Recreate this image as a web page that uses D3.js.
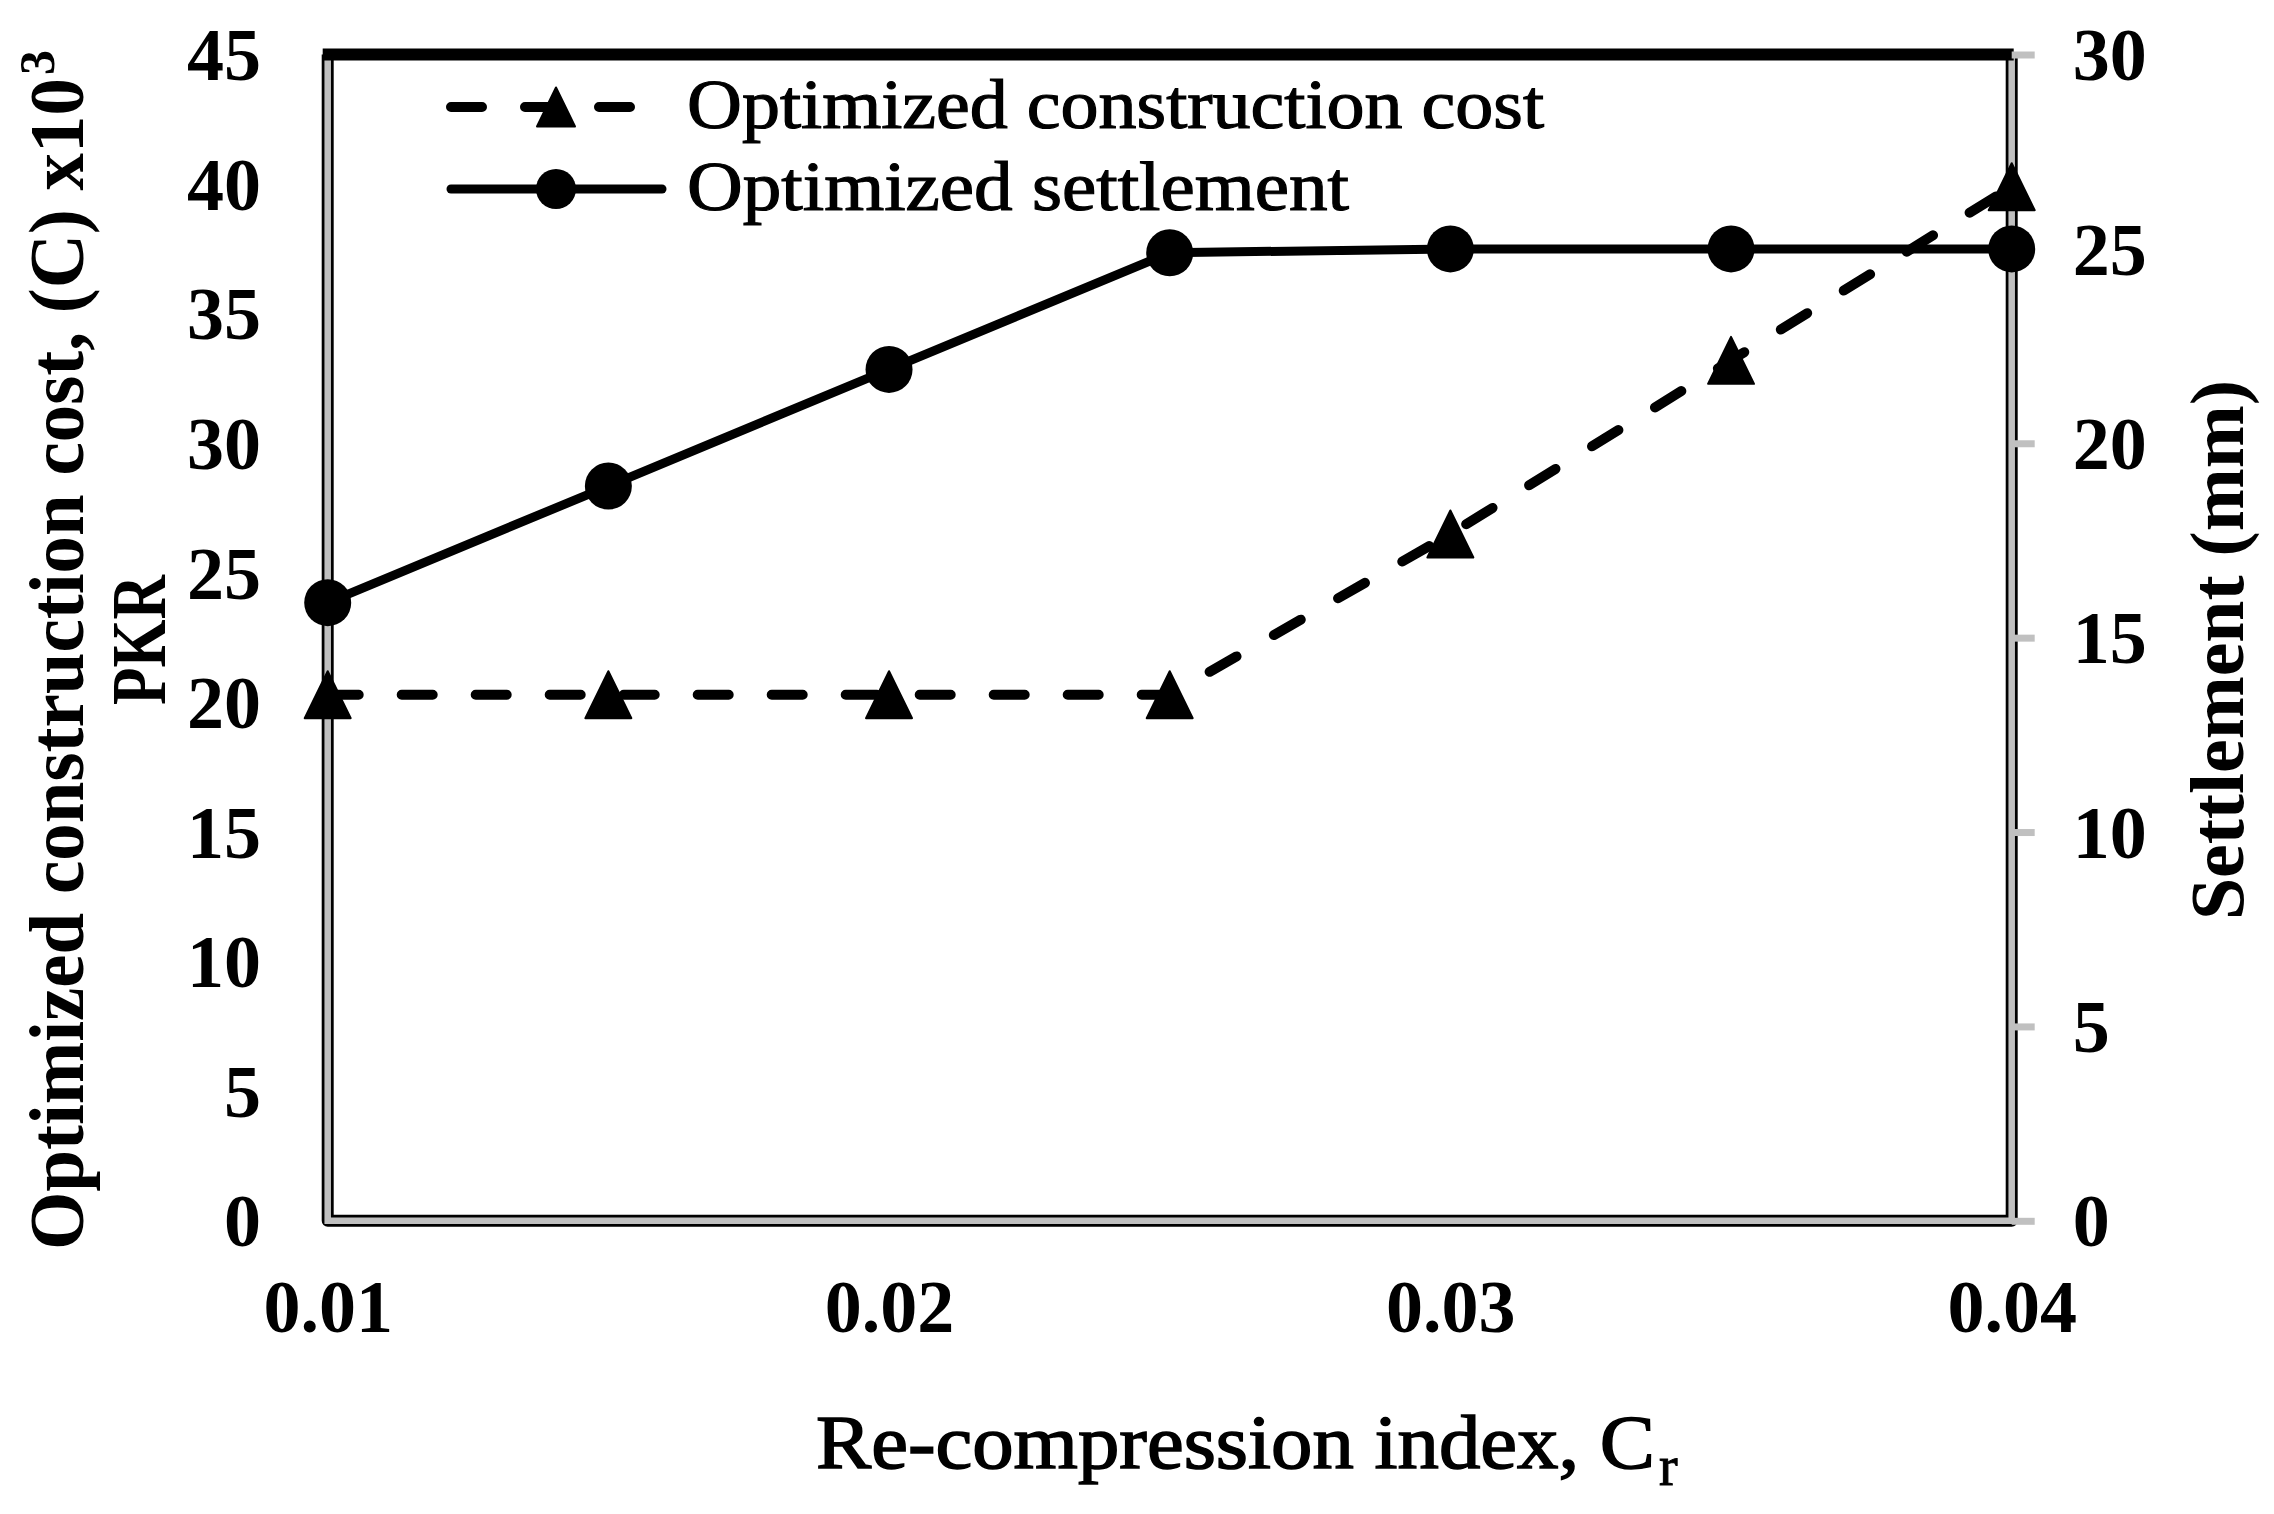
<!DOCTYPE html>
<html><head><meta charset="utf-8">
<script src="https://cdn.jsdelivr.net/npm/d3@7"></script>
<style>html,body{margin:0;padding:0;background:#fff;} svg{display:block;}</style>
</head><body>
<svg id="chart" width="2274" height="1514"></svg>
<script>
// ---- data ----
const crValues = [0.01, 0.015, 0.02, 0.025, 0.03, 0.035, 0.04];
const costValues = [20.3, 20.3, 20.3, 20.3, 26.5, 33.2, 39.9];
const settlementValues = [15.9, 18.9, 21.9, 24.9, 25.0, 25.0, 25.0];
const xTickValues = [0.01, 0.02, 0.03, 0.04];
const leftTickValues = [0, 5, 10, 15, 20, 25, 30, 35, 40, 45];
const rightTickValues = [0, 5, 10, 15, 20, 25, 30];
const seriesNames = ["Optimized construction cost", "Optimized settlement"];
const leftTitle = "Optimized construction cost, (C) x10";
const leftTitleSup = "3";
const leftTitle2 = "PKR";
const rightTitle = "Settlement (mm)";
const xTitle = "Re-compression index, C";
const xTitleSub = "r";

// ---- setup ----
const svg = d3.select("#chart");
const serif = "'Liberation Serif','Times New Roman',serif";
const GRAY = "#c0c0c0";
const x = d3.scaleLinear().domain([0.01, 0.04]).range([327.7, 2011.7]);
const yL = d3.scaleLinear().domain([0, 45]).range([1220.8, 54.5]);
const yR = d3.scaleLinear().domain([0, 30]).range([1220.8, 54.5]);
const [x0, x1] = x.range();
const [yb, yt] = yL.range();

// ---- frame ----
const framePath = `M${x0},${yt} L${x0},${yb} L${x1},${yb} L${x1},${yt}`;
svg.append("path").attr("d", framePath).attr("fill", "none")
  .attr("stroke", "#000").attr("stroke-width", 12).attr("stroke-linejoin", "round");
svg.append("path").attr("d", framePath).attr("fill", "none")
  .attr("stroke", GRAY).attr("stroke-width", 6.5).attr("stroke-linejoin", "miter");
svg.append("line").attr("x1", x0 - 5).attr("x2", x1 + 2).attr("y1", yt).attr("y2", yt)
  .attr("stroke", "#000").attr("stroke-width", 12);

// ---- axes ----
const rAxis = svg.append("g").attr("transform", `translate(${x1},0)`)
  .call(d3.axisRight(yR).tickValues(rightTickValues).tickSize(23).tickPadding(38).tickFormat(d3.format("d")));
rAxis.select(".domain").remove();
rAxis.attr("font-family", serif).attr("font-size", 74).attr("font-weight", "bold");
rAxis.selectAll(".tick line").attr("stroke", GRAY).attr("stroke-width", 7);
rAxis.selectAll(".tick text").attr("dy", "0.34em").attr("fill", "#000");

const lAxis = svg.append("g").attr("transform", `translate(${x0},0)`)
  .call(d3.axisLeft(yL).tickValues(leftTickValues).tickSize(0).tickPadding(66.7).tickFormat(d3.format("d")));
lAxis.select(".domain").remove();
lAxis.attr("font-family", serif).attr("font-size", 74).attr("font-weight", "bold");
lAxis.selectAll(".tick text").attr("dy", "0.34em").attr("fill", "#000");

const bAxis = svg.append("g").attr("transform", `translate(0,${yb})`)
  .call(d3.axisBottom(x).tickValues(xTickValues).tickSize(0).tickFormat(d3.format(".2f")));
bAxis.select(".domain").remove();
bAxis.attr("font-family", serif).attr("font-size", 74).attr("font-weight", "bold");
bAxis.selectAll(".tick text").attr("y", 111.2).attr("dy", 0).attr("fill", "#000");

// ---- series ----
const costData = crValues.map((c, i) => ({ c, v: costValues[i] }));
const setData = crValues.map((c, i) => ({ c, v: settlementValues[i] }));

svg.append("path").datum(costData)
  .attr("d", d3.line().x(d => x(d.c)).y(d => yL(d.v)))
  .attr("fill", "none").attr("stroke", "#000").attr("stroke-width", 10)
  .attr("stroke-dasharray", "31,43").attr("stroke-linecap", "round").attr("stroke-linejoin", "round");

svg.append("path").datum(setData)
  .attr("d", d3.line().x(d => x(d.c)).y(d => yR(d.v)))
  .attr("fill", "none").attr("stroke", "#000").attr("stroke-width", 9).attr("stroke-linejoin", "round");

const tri = (w, h) => `M0,${-h / 2}L${w / 2},${h / 2}L${-w / 2},${h / 2}Z`;
svg.append("g").selectAll("path").data(costData).join("path")
  .attr("d", tri(46, 47))
  .attr("transform", d => `translate(${x(d.c)},${yL(d.v)})`)
  .attr("fill", "#000").attr("stroke", "#000").attr("stroke-width", 2).attr("stroke-linejoin", "round");

svg.append("g").selectAll("circle").data(setData).join("circle")
  .attr("cx", d => x(d.c)).attr("cy", d => yR(d.v)).attr("r", 23.5).attr("fill", "#000");

// ---- legend ----
const legend = svg.append("g");
const legRows = [
  { y: 107, dash: "31,43", w: 10, marker: "tri", name: seriesNames[0], len: 857 },
  { y: 189, dash: null, w: 9, marker: "circle", name: seriesNames[1], len: 662 }
];
legRows.forEach(r => {
  legend.append("line").attr("x1", 451).attr("x2", 662).attr("y1", r.y).attr("y2", r.y)
    .attr("stroke", "#000").attr("stroke-width", r.w)
    .attr("stroke-dasharray", r.dash).attr("stroke-linecap", "round");
  if (r.marker === "tri") {
    legend.append("path").attr("d", tri(38, 39)).attr("transform", `translate(556,${r.y})`)
      .attr("fill", "#000").attr("stroke", "#000").attr("stroke-width", 2).attr("stroke-linejoin", "round");
  } else {
    legend.append("circle").attr("cx", 556).attr("cy", r.y).attr("r", 20).attr("fill", "#000");
  }
  legend.append("text").attr("x", 687).attr("y", r.y + 21)
    .attr("font-family", serif).attr("font-size", 70).attr("fill", "#000")
    .attr("stroke", "#000").attr("stroke-width", 1.2)
    .attr("textLength", r.len).attr("lengthAdjust", "spacingAndGlyphs")
    .text(r.name);
});

// ---- titles ----
const lt = svg.append("g").attr("transform", "translate(83,1250) rotate(-90)")
  .attr("font-family", serif).attr("font-weight", "bold").attr("fill", "#000");
lt.append("text").attr("x", 0).attr("y", 0).attr("font-size", 78)
  .attr("textLength", 1172).attr("lengthAdjust", "spacingAndGlyphs").text(leftTitle);
lt.append("text").attr("x", 1175).attr("y", -29).attr("font-size", 50).text(leftTitleSup);

svg.append("text").attr("transform", "translate(165,640) rotate(-90)")
  .attr("text-anchor", "middle").attr("font-family", serif).attr("font-weight", "bold")
  .attr("font-size", 78).attr("fill", "#000")
  .attr("textLength", 130).attr("lengthAdjust", "spacingAndGlyphs").text(leftTitle2);

svg.append("text").attr("transform", "translate(2243,650) rotate(-90)")
  .attr("text-anchor", "middle").attr("font-family", serif).attr("font-weight", "bold")
  .attr("font-size", 76).attr("fill", "#000")
  .attr("textLength", 540).attr("lengthAdjust", "spacingAndGlyphs").text(rightTitle);

svg.append("text").attr("x", 816).attr("y", 1468)
  .attr("font-family", serif).attr("font-size", 76).attr("fill", "#000")
  .attr("stroke", "#000").attr("stroke-width", 1.5)
  .attr("textLength", 839).attr("lengthAdjust", "spacingAndGlyphs").text(xTitle);
svg.append("text").attr("x", 1659).attr("y", 1485)
  .attr("font-family", serif).attr("font-size", 56).attr("fill", "#000")
  .attr("stroke", "#000").attr("stroke-width", 1).text(xTitleSub);
</script>
</body></html>
